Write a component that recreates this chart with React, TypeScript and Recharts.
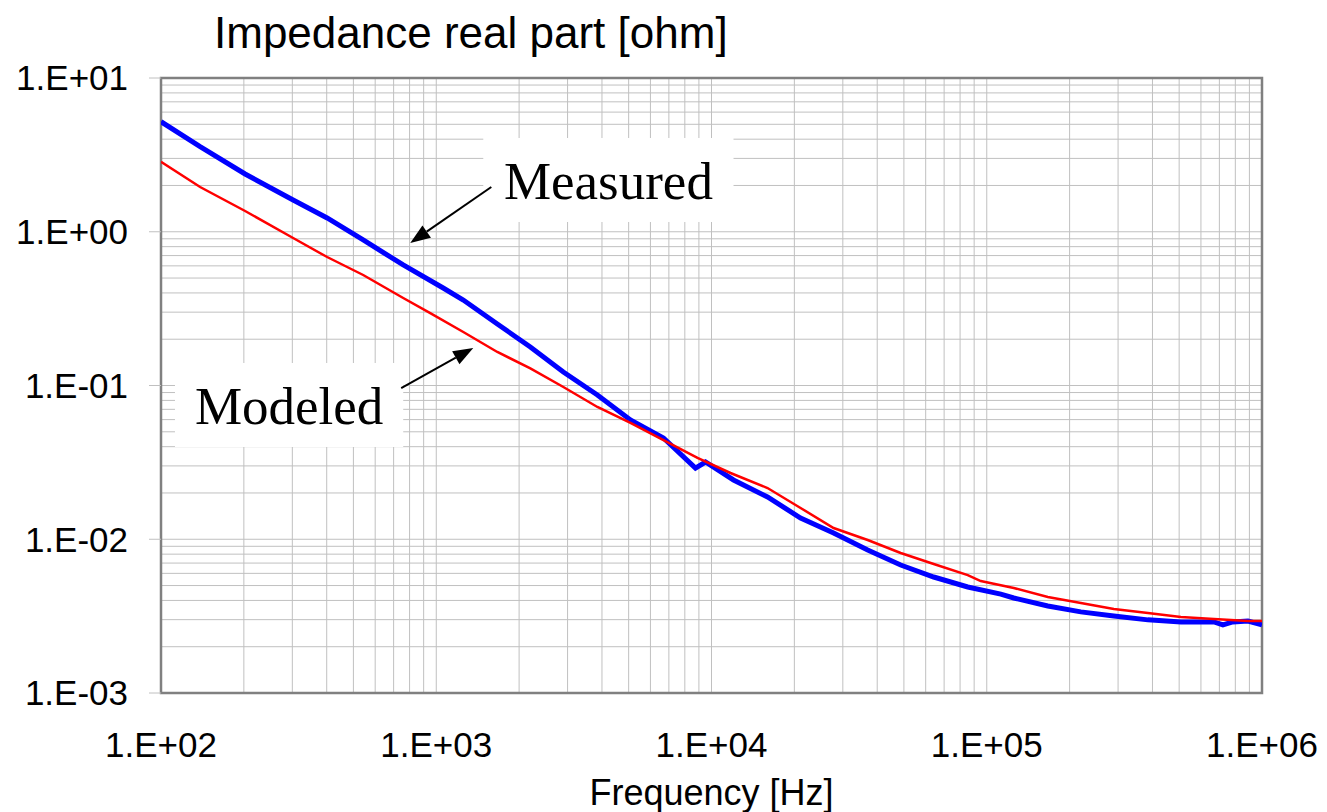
import React from 'react';
import { LineChart, Line, XAxis, YAxis, CartesianGrid, ReferenceArea, ReferenceLine } from 'recharts';

// Frequency [Hz] and impedance real part [ohm]
const measuredFreq = [100, 138.7, 202.1, 302, 401.4, 542.7, 758.6, 1060, 1254, 1667, 2197, 2896, 3850, 5076, 6692, 8747, 9511, 12023, 15979, 21067, 27771, 36936, 48681, 64174, 85310, 112440, 125370, 166690, 219730, 289600, 385000, 507600, 669200, 721100, 783400, 889200, 1000000];
const measuredValue = [5.197, 3.575, 2.375, 1.609, 1.229, 0.884, 0.608, 0.4306, 0.3598, 0.2512, 0.178, 0.1224, 0.0868, 0.0597, 0.0456, 0.02906, 0.0318, 0.0243, 0.01883, 0.01375, 0.01098, 0.00851, 0.0068, 0.00568, 0.00489, 0.0044, 0.00415, 0.00368, 0.00337, 0.00317, 0.00299, 0.0029, 0.0029, 0.00277, 0.0029, 0.00294, 0.00277];

const modeledFreq = [100, 138.7, 202.1, 302, 401.4, 542.7, 758.6, 951.1, 1254, 1667, 2197, 2896, 3850, 5076, 6692, 8895, 11724, 15979, 21067, 27771, 36936, 48681, 64174, 85310, 95110, 125370, 166690, 219730, 289600, 385000, 507600, 669200, 889200, 1000000];
const modeledValue = [2.855, 1.954, 1.365, 0.911, 0.685, 0.5233, 0.3708, 0.296, 0.2228, 0.1652, 0.1294, 0.0978, 0.0725, 0.0571, 0.0442, 0.0338, 0.02698, 0.02154, 0.01597, 0.01183, 0.00989, 0.00814, 0.0069, 0.00585, 0.00535, 0.00482, 0.00421, 0.00385, 0.00352, 0.00331, 0.00312, 0.00303, 0.00294, 0.00294];

const xTicks = [100, 1000, 10000, 100000, 1000000];
const yTicks = [0.001, 0.01, 0.1, 1, 10];
const minorMultipliers = [1, 2, 3, 4, 5, 6, 7, 8, 9];

const titleText = 'Impedance real part [ohm]';
const xLabelText = 'Frequency [Hz]';
const measuredLabel = 'Measured';
const modeledLabel = 'Modeled';

const buildGrid = (ticks: number[]) => {
  const out: number[] = [];
  for (let i = 0; i < ticks.length - 1; i++) {
    for (const m of minorMultipliers) out.push(ticks[i] * m);
  }
  out.push(ticks[ticks.length - 1]);
  return out;
};
const xGrid = buildGrid(xTicks);
const yGrid = buildGrid(yTicks);

const measured = measuredFreq.map((f, i) => ({ f, v: measuredValue[i] }));
const modeled = modeledFreq.map((f, i) => ({ f, v: modeledValue[i] }));

const fmt = (v: number) => {
  const e = Math.round(Math.log10(v));
  return `1.E${e >= 0 ? '+' : '-'}${String(Math.abs(e)).padStart(2, '0')}`;
};

const sans = '"Liberation Sans", Arial, sans-serif';
const serif = '"Liberation Serif", "Times New Roman", serif';

const ArrowShape = (props: any) => {
  const { x1, y1, x2, y2 } = props;
  if ([x1, y1, x2, y2].some((n) => typeof n !== 'number' || isNaN(n))) return null;
  const ang = Math.atan2(y2 - y1, x2 - x1);
  const len = 20;
  const half = 7.5;
  const bx = x2 - len * Math.cos(ang);
  const by = y2 - len * Math.sin(ang);
  const px = -Math.sin(ang) * half;
  const py = Math.cos(ang) * half;
  return (
    <g>
      <line x1={x1} y1={y1} x2={bx} y2={by} stroke="#000" strokeWidth={2} />
      <polygon points={`${x2},${y2} ${bx + px},${by + py} ${bx - px},${by - py}`} fill="#000" />
    </g>
  );
};

export default function App() {
  return (
    <div style={{ position: 'absolute', left: 0, top: 0, width: 1327, height: 812, background: '#fff' }}>
      <LineChart width={1327} height={812} margin={{ top: 78, right: 65, left: 0, bottom: 0 }}>
        <CartesianGrid stroke="#c0c0c0" strokeWidth={1} verticalValues={xGrid} horizontalValues={yGrid} />
        <XAxis
          type="number"
          dataKey="f"
          scale="log"
          domain={[100, 1000000]}
          allowDataOverflow
          ticks={xTicks}
          interval={0}
          tickFormatter={fmt}
          height={119}
          tickSize={0}
          tickMargin={39}
          axisLine={false}
          tickLine={false}
          tick={{ fill: '#000', fontSize: 35, fontFamily: sans }}
          label={{ value: xLabelText, position: 'insideBottom', offset: 7, fontSize: 36, fill: '#000', fontFamily: sans }}
        />
        <YAxis
          type="number"
          dataKey="v"
          scale="log"
          domain={[0.001, 10]}
          allowDataOverflow
          ticks={yTicks}
          interval={0}
          tickFormatter={fmt}
          width={161}
          tickSize={12}
          tickMargin={21}
          axisLine={false}
          tickLine={{ stroke: '#c0c0c0' }}
          tick={{ fill: '#000', fontSize: 35, fontFamily: sans }}
        />
        <ReferenceArea
          x1={1482}
          x2={12023}
          y1={1.157}
          y2={4.07}
          fill="#fff"
          fillOpacity={1}
          stroke="none"
          label={{ value: measuredLabel, position: 'center', fontSize: 53, fill: '#000', fontFamily: serif }}
        />
        <ReferenceArea
          x1={112.4}
          x2={758.6}
          y1={0.0398}
          y2={0.14}
          fill="#fff"
          fillOpacity={1}
          stroke="none"
          label={{ value: modeledLabel, position: 'center', fontSize: 53, fill: '#000', fontFamily: serif }}
        />
        <ReferenceArea x1={100} x2={1000000} y1={0.001} y2={10} fill="none" stroke="#808080" strokeWidth={2.5} />
        <Line data={measured} dataKey="v" type="linear" stroke="#0000ff" strokeWidth={5} dot={false} isAnimationActive={false} />
        <Line data={modeled} dataKey="v" type="linear" stroke="#ff0000" strokeWidth={2.5} dot={false} isAnimationActive={false} />
        <ReferenceLine segment={[{ x: 1585, y: 1.954 }, { x: 804.5, y: 0.845 }]} shape={ArrowShape} />
        <ReferenceLine segment={[{ x: 745.9, y: 0.0963 }, { x: 1363, y: 0.1754 }]} shape={ArrowShape} />
      </LineChart>
      <svg width={1327} height={812} style={{ position: 'absolute', left: 0, top: 0, pointerEvents: 'none' }}>
        <text x={214} y={48} fontSize={44} fontFamily={sans} fill="#000">{titleText}</text>
      </svg>
    </div>
  );
}
